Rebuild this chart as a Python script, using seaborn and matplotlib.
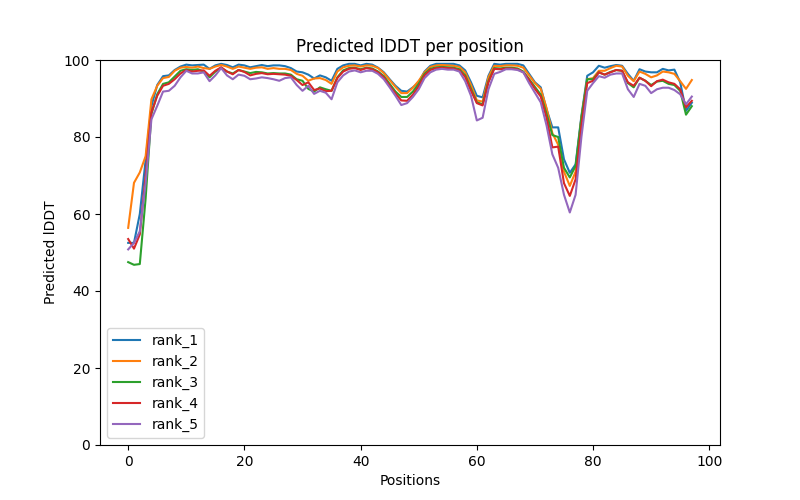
import numpy as np
import pandas as pd
import matplotlib
matplotlib.use("Agg")
import matplotlib.pyplot as plt
import seaborn as sns

# lDDT values, positions 0..97
rank_1 = [52.5, 52.5, 60.0, 74.0, 88.0, 93.5, 95.8, 96.0, 97.4, 98.3,
          98.8, 98.6, 98.7, 98.8, 97.7, 98.6, 99.0, 98.7, 98.1, 98.8,
          98.6, 98.1, 98.4, 98.7, 98.4, 98.6, 98.6, 98.4, 97.9, 97.0,
          96.8, 96.2, 95.2, 96.0, 95.5, 94.6, 97.7, 98.6, 99.0, 99.0,
          98.6, 99.0, 98.8, 98.0, 96.8, 95.0, 93.3, 92.0, 91.8, 92.9,
          94.2, 97.0, 98.5, 99.0, 99.0, 99.0, 99.0, 98.6, 97.3, 94.2,
          90.7, 90.3, 95.9, 99.0, 98.8, 99.0, 99.0, 99.0, 98.6, 96.4,
          94.2, 92.9, 87.2, 82.5, 82.5, 74.2, 70.7, 72.9, 85.5, 95.9,
          96.8, 98.5, 98.0, 98.4, 98.7, 98.5, 96.4, 94.6, 97.6, 97.0,
          96.8, 96.8, 97.7, 97.3, 97.5, 94.2, 86.8, 88.9]
rank_2 = [56.4, 68.1, 70.8, 75.0, 89.8, 93.3, 95.3, 95.6, 97.2, 98.0,
          98.2, 98.0, 98.3, 97.9, 97.7, 98.3, 98.7, 98.3, 97.7, 98.3,
          98.0, 97.7, 98.0, 98.1, 97.7, 97.9, 97.7, 97.7, 97.4, 96.4,
          95.9, 94.6, 95.2, 95.3, 94.8, 93.8, 97.0, 98.1, 98.5, 98.6,
          98.3, 98.6, 98.5, 97.9, 96.6, 94.8, 93.0, 91.4, 91.4, 92.8,
          94.6, 96.8, 98.2, 98.6, 98.7, 98.6, 98.5, 98.2, 96.8, 93.5,
          89.5, 89.2, 95.5, 98.5, 98.4, 98.6, 98.6, 98.5, 98.0, 96.0,
          94.0, 92.5, 87.5, 81.0, 78.0, 71.0, 67.3, 71.0, 85.0, 95.0,
          95.3, 97.2, 97.2, 97.9, 98.5, 98.3, 95.9, 94.5, 97.0, 96.4,
          95.5, 96.0, 97.0, 96.8, 96.4, 94.5, 92.5, 94.8]
rank_3 = [47.5, 46.8, 47.0, 64.0, 86.0, 91.1, 93.8, 94.2, 95.7, 97.2,
          97.6, 97.4, 97.6, 97.0, 95.5, 97.0, 98.0, 97.0, 96.5, 97.4,
          97.0, 96.6, 96.9, 96.8, 96.5, 96.6, 96.5, 96.5, 96.2, 95.0,
          94.6, 92.5, 91.8, 92.9, 92.4, 92.0, 95.5, 97.3, 97.9, 98.0,
          97.6, 98.0, 97.8, 97.0, 95.8, 93.8, 91.8, 90.4, 90.4, 91.8,
          93.8, 96.4, 97.7, 98.1, 98.2, 98.1, 98.0, 97.6, 96.0, 92.5,
          89.0, 88.5, 94.5, 97.9, 97.8, 98.0, 98.0, 97.8, 97.0, 95.0,
          93.0, 91.0, 86.0, 80.5, 80.0, 72.0, 69.5, 72.5, 85.0, 95.0,
          95.0, 96.8, 96.2, 96.9, 97.4, 97.2, 94.0, 92.9, 95.4, 94.6,
          93.5, 94.4, 94.6, 93.8, 93.5, 92.0, 85.8, 88.0]
rank_4 = [53.5, 51.0, 54.7, 70.0, 86.4, 90.7, 93.3, 93.8, 95.0, 96.5,
          97.4, 97.0, 97.2, 97.3, 95.9, 97.2, 98.1, 97.0, 96.3, 97.4,
          96.9, 96.0, 96.4, 96.6, 96.3, 96.4, 96.3, 96.2, 95.9, 94.8,
          93.5, 94.2, 92.2, 92.6, 91.9, 92.0, 95.3, 97.0, 97.7, 97.9,
          97.4, 97.9, 97.6, 96.8, 95.5, 93.3, 91.3, 89.5, 89.4, 91.0,
          93.2, 96.0, 97.4, 97.9, 98.0, 97.9, 97.8, 97.3, 95.6, 92.0,
          88.8, 88.2, 94.2, 97.7, 97.6, 97.8, 97.8, 97.6, 96.8, 94.8,
          92.5, 90.5, 85.0, 77.3, 77.5, 68.0, 64.7, 69.0, 83.0, 94.0,
          94.6, 96.8, 96.2, 96.8, 97.4, 97.2, 94.2, 93.3, 95.4, 94.6,
          93.2, 94.5, 94.9, 94.2, 93.8, 92.4, 87.7, 89.4]
rank_5 = [50.8, 52.5, 55.5, 68.0, 84.6, 88.1, 91.8, 92.0, 93.3, 95.5,
          97.2, 96.5, 96.5, 96.8, 94.5, 96.0, 97.9, 96.0, 95.0, 96.2,
          95.9, 95.0, 95.2, 95.5, 95.3, 95.0, 94.6, 95.3, 95.5, 93.5,
          92.0, 93.3, 91.2, 92.0, 91.5, 89.8, 94.2, 96.0, 97.0, 97.3,
          96.8, 97.2, 97.2, 96.4, 95.0, 92.9, 90.7, 88.3, 88.8, 90.4,
          92.4, 95.3, 96.8, 97.5, 97.7, 97.5, 97.5, 97.0, 94.5, 90.7,
          84.3, 85.0, 92.4, 96.4, 96.9, 97.6, 97.6, 97.4, 96.8, 94.0,
          91.5, 89.0, 83.0, 75.5, 72.0, 65.0, 60.4, 65.0, 80.0, 92.0,
          94.0, 95.8, 95.4, 96.2, 96.5, 96.5, 92.4, 90.4, 93.8, 93.3,
          91.4, 92.4, 92.8, 92.8, 92.2, 91.1, 88.5, 90.5]

ranks = ["rank_1", "rank_2", "rank_3", "rank_4", "rank_5"]
series = [rank_1, rank_2, rank_3, rank_4, rank_5]

frames = []
for name, vals in zip(ranks, series):
    frames.append(pd.DataFrame({
        "Positions": np.arange(len(vals)),
        "plddt": vals,
        "model": name,
    }))
df = pd.concat(frames, ignore_index=True)

fig, ax = plt.subplots(figsize=(8, 5), dpi=100)
sns.lineplot(data=df, x="Positions", y="plddt", hue="model",
             hue_order=ranks, palette="tab10", linewidth=1.5, ax=ax)

ax.set_ylim(0, 100)
ax.set_title("Predicted lDDT per position")
ax.set_xlabel("Positions")
ax.set_ylabel("Predicted lDDT")
ax.legend(loc="lower left")

fig.savefig("out.png", dpi=100)
